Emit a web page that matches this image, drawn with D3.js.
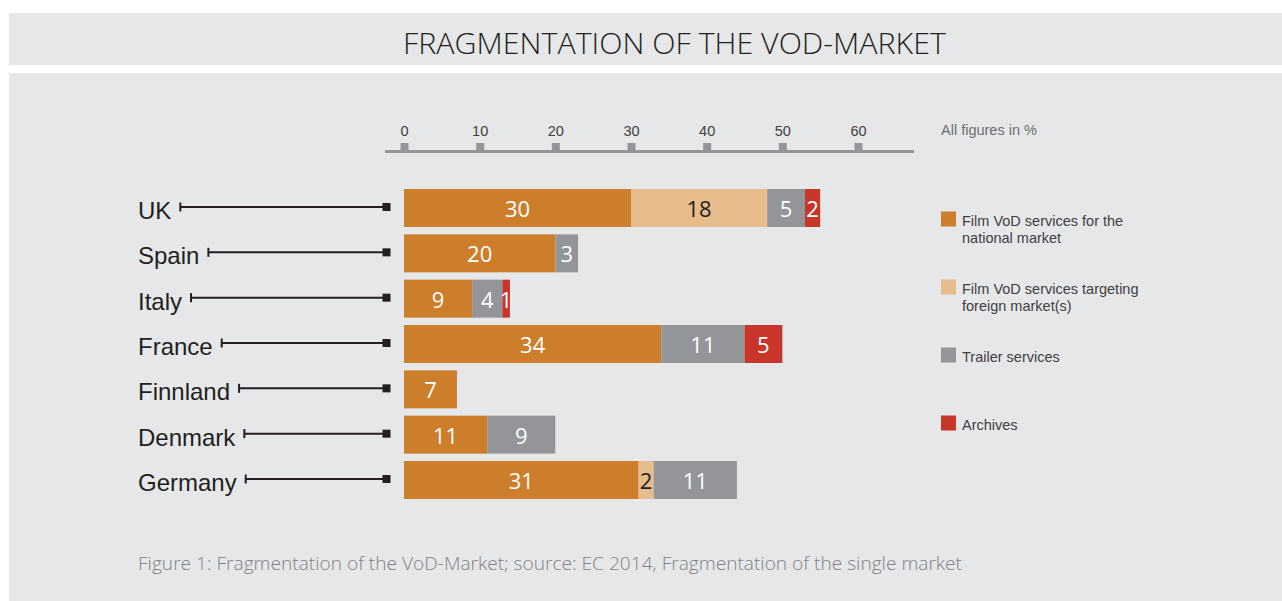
<!DOCTYPE html>
<html>
<head>
<meta charset="utf-8">
<script src="https://cdn.jsdelivr.net/npm/d3@7"></script>
<style>
  html, body { margin: 0; padding: 0; background: #fff; }
  svg { display: block; }
</style>
</head>
<body>
<svg id="chart" width="1282" height="601"></svg>
<script>
// Data
const countries = ['UK', 'Spain', 'Italy', 'France', 'Finnland', 'Denmark', 'Germany'];
const national = [30, 20, 9, 34, 7, 11, 31];
const foreign = [18, 0, 0, 0, 0, 0, 2];
const trailer = [5, 3, 4, 11, 0, 9, 11];
const archives = [2, 0, 1, 5, 0, 0, 0];
const seriesKeys = ['national', 'foreign', 'trailer', 'archives'];
const seriesLabels = [
    ['Film VoD services for the', 'national market'],
    ['Film VoD services targeting', 'foreign market(s)'],
    ['Trailer services'],
    ['Archives']
];
const tickValues = [0, 10, 20, 30, 40, 50, 60];

const colors = {
    national: '#cc7e2b',
    foreign: '#e7bc8c',
    trailer: '#939598',
    archives: '#c8352a'
};
const labelColors = {
    national: '#ffffff',
    foreign: '#231f20',
    trailer: '#ffffff',
    archives: '#ffffff'
};

const rows = countries.map((c, i) => ({
    country: c,
    national: national[i],
    foreign: foreign[i],
    trailer: trailer[i],
    archives: archives[i]
}));

const svg = d3.select('#chart');
const sans = "'Liberation Sans', Arial, sans-serif";
const light = "'Open Sans', 'Liberation Sans', sans-serif";

// Panels
svg.append('rect').attr('x', 9).attr('y', 13).attr('width', 1273).attr('height', 52).attr('fill', '#e6e7e8');
svg.append('rect').attr('x', 9).attr('y', 73).attr('width', 1273).attr('height', 528).attr('fill', '#e6e7e8');

// Title
svg.append('text')
    .attr('x', 403)
    .attr('y', 54)
    .attr('textLength', 543)
    .attr('lengthAdjust', 'spacingAndGlyphs')
    .attr('font-family', light)
    .attr('font-weight', 300)
    .attr('font-size', '30px')
    .attr('fill', '#231f20')
    .text('FRAGMENTATION OF THE VOD-MARKET');

// Scales
const x = d3.scaleLinear().domain([0, 60]).range([404, 858]);
const y = d3.scaleBand()
    .domain(countries)
    .range([185.33, 502.67])
    .paddingInner(0.162)
    .paddingOuter(0.081);

// Axis
svg.append('line')
    .attr('x1', 385).attr('x2', 914)
    .attr('y1', 151.5).attr('y2', 151.5)
    .attr('stroke', '#939598')
    .attr('stroke-width', 3);

const axis = d3.axisTop(x).tickValues(tickValues).tickSize(0).tickPadding(0);
const axisG = svg.append('g')
    .attr('transform', 'translate(0,136)')
    .call(axis);
axisG.select('.domain').remove();
axisG.selectAll('text')
    .attr('font-family', sans)
    .attr('font-size', '14.5px')
    .attr('fill', '#414042')
    .attr('dy', 0);
axisG.selectAll('.tick').append('rect')
    .attr('x', -4).attr('y', 7)
    .attr('width', 8).attr('height', 9)
    .attr('fill', '#939598');

svg.append('text')
    .attr('x', 941).attr('y', 135)
    .attr('font-family', sans)
    .attr('font-size', '14.5px')
    .attr('fill', '#6d6e71')
    .text('All figures in %');

// Country labels with leader lines
const labels = svg.append('g').selectAll('g')
    .data(rows)
    .join('g')
    .attr('transform', d => `translate(0, ${y(d.country) + y.bandwidth() / 2})`);

labels.append('text')
    .attr('x', 138)
    .attr('y', 11)
    .attr('font-family', sans)
    .attr('font-size', '24px')
    .attr('fill', '#231f20')
    .text(d => d.country);

labels.each(function() {
    const g = d3.select(this);
    const end = 138 + g.select('text').node().getComputedTextLength();
    const x0 = end + 9;
    g.append('line')
        .attr('x1', x0).attr('x2', 386)
        .attr('y1', -1).attr('y2', -1)
        .attr('stroke', '#231f20')
        .attr('stroke-width', 2);
    g.append('line')
        .attr('x1', x0).attr('x2', x0)
        .attr('y1', -5.5).attr('y2', 3.5)
        .attr('stroke', '#231f20')
        .attr('stroke-width', 2);
    g.append('rect')
        .attr('x', 382.5).attr('y', -5)
        .attr('width', 8).attr('height', 8)
        .attr('fill', '#231f20');
});

// Stacked bars
const stack = d3.stack().keys(seriesKeys);
const stacked = stack(rows);

const layers = svg.append('g').selectAll('g')
    .data(stacked)
    .join('g')
    .attr('fill', d => colors[d.key]);

layers.selectAll('rect')
    .data(d => d.filter(s => s[1] > s[0]))
    .join('rect')
    .attr('x', d => x(d[0]))
    .attr('y', d => y(d.data.country))
    .attr('width', d => x(d[1]) - x(d[0]))
    .attr('height', y.bandwidth());

layers.each(function(layer) {
    d3.select(this).selectAll('text')
        .data(layer.filter(s => s[1] > s[0]))
        .join('text')
        .attr('x', d => (x(d[0]) + x(d[1])) / 2)
        .attr('y', d => y(d.data.country) + y.bandwidth() / 2 + 9)
        .attr('text-anchor', 'middle')
        .attr('font-family', light)
        .attr('font-size', '22px')
        .attr('fill', labelColors[layer.key])
        .text(d => d[1] - d[0]);
});

// Legend
const legend = svg.append('g').selectAll('g')
    .data(seriesKeys)
    .join('g')
    .attr('transform', (d, i) => `translate(941, ${211.5 + i * 68})`);

legend.append('rect')
    .attr('width', 15).attr('height', 15)
    .attr('fill', d => colors[d]);

legend.each(function(d, i) {
    d3.select(this).selectAll('text')
        .data(seriesLabels[i])
        .join('text')
        .attr('x', 21)
        .attr('y', (t, j) => 14.5 + j * 17)
        .attr('font-family', sans)
        .attr('font-size', '14.5px')
        .attr('fill', '#414042')
        .text(t => t);
});

// Caption
svg.append('text')
    .attr('x', 138)
    .attr('y', 570)
    .attr('textLength', 824)
    .attr('lengthAdjust', 'spacingAndGlyphs')
    .attr('font-family', light)
    .attr('font-weight', 300)
    .attr('font-size', '18px')
    .attr('fill', '#808285')
    .text('Figure 1: Fragmentation of the VoD-Market; source: EC 2014, Fragmentation of the single market');
</script>
</body>
</html>
